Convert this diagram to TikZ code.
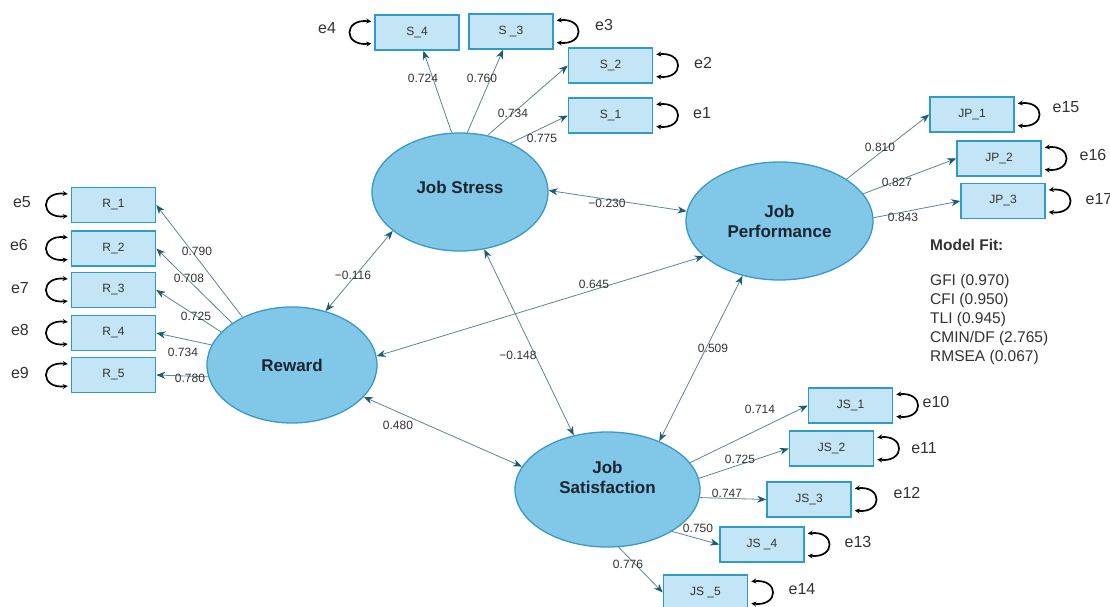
\documentclass[tikz,border=0pt]{standalone}
\usepackage{fontspec}
\setmainfont{Liberation Sans}
\usetikzlibrary{shapes.geometric,arrows.meta,calc}
\definecolor{ellfill}{HTML}{80C7E8}
\definecolor{ellline}{HTML}{3A9AC4}
\definecolor{boxfill}{HTML}{C3E5F5}
\definecolor{boxline}{HTML}{2F9CC6}
\definecolor{linecol}{HTML}{5A8797}
\definecolor{arrowcol}{HTML}{1D5A74}
\definecolor{txtdark}{HTML}{1A2430}
\definecolor{lblcol}{HTML}{333333}
\tikzset{
  latent/.style={ellipse, draw=ellline, fill=ellfill, line width=1.3pt, inner sep=0pt},
  lattext/.style={font=\fontsize{17}{20}\selectfont\bfseries, text=txtdark, align=center, inner sep=0pt},
  obs/.style={rectangle, draw=boxline, fill=boxfill, line width=1.6pt,
    minimum width=84, minimum height=35, inner sep=0pt,
    font=\fontsize{12}{14}\selectfont, text=lblcol},
  corr/.style={draw=linecol, line width=0.8pt,
    {Stealth[length=9pt,width=7pt,color=arrowcol]}-{Stealth[length=9pt,width=7pt,color=arrowcol]}},
  load/.style={draw=linecol, line width=0.8pt,
    -{Stealth[length=9pt,width=7pt,color=arrowcol]}},
  selfloop/.style={draw=black, line width=1.7pt,
    {Stealth[length=5pt,width=5pt]}-{Stealth[length=5pt,width=5pt]}},
  coef/.style={font=\fontsize{12}{14}\selectfont, text=lblcol, inner sep=0pt},
  errlab/.style={font=\fontsize{16}{18}\selectfont, text=lblcol, inner sep=0pt},
  fitlab/.style={font=\fontsize{15.5}{18}\selectfont, text=lblcol, inner sep=0pt, anchor=base west}
}
\begin{document}
\begin{tikzpicture}[x=1pt,y=-1pt]
\fill[white] (0,0) rectangle (1110,607);
\useasboundingbox (0,0) rectangle (1110,607);

% latent variables
\node[latent, minimum width=176, minimum height=118] (stress) at (460,192) {};
\node[latent, minimum width=187, minimum height=118] (perf) at (779.5,221) {};
\node[latent, minimum width=170, minimum height=116] (reward) at (292,365) {};
\node[latent, minimum width=185, minimum height=115] (sat) at (607.5,489.5) {};
\node[lattext] (stresst) at (460,187) {Job Stress};
\node[lattext] (perft) at (779.5,221) {Job\\Performance};
\node[lattext] (rewardt) at (292,365) {Reward};
\node[lattext] (satt) at (607.5,477) {Job\\Satisfaction};

% observed
\node[obs] (s4) at (417,32.5) {S\_4};
\node[obs] (s3) at (511,31.5) {S \_3};
\node[obs] (s2) at (610.5,65.5) {S\_2};
\node[obs] (s1) at (610.5,115.5) {S\_1};
\node[obs] (r1) at (113.5,205) {R\_1};
\node[obs] (r2) at (113.5,248.5) {R\_2};
\node[obs] (r3) at (113.5,290) {R\_3};
\node[obs] (r4) at (113.5,333) {R\_4};
\node[obs] (r5) at (113.5,375) {R\_5};
\node[obs] (jp1) at (972,114.5) {JP\_1};
\node[obs] (jp2) at (999,158.5) {JP\_2};
\node[obs] (jp3) at (1003,201) {JP\_3};
\node[obs] (js1) at (850.5,405.5) {JS\_1};
\node[obs] (js2) at (831.5,448.5) {JS\_2};
\node[obs] (js3) at (809,499.5) {JS\_3};
\node[obs] (js4) at (762,544.5) {JS \_4};
\node[obs] (js5) at (705.5,592.5) {JS \_5};

% error labels
\node[errlab] (e4) at (327,28) {e4};
\node[errlab] (e3) at (604,25) {e3};
\node[errlab] (e2) at (703,63) {e2};
\node[errlab] (e1) at (702,113) {e1};
\node[errlab] (e5) at (22,202) {e5};
\node[errlab] (e6) at (19,245) {e6};
\node[errlab] (e7) at (20,288) {e7};
\node[errlab] (e8) at (20,330) {e8};
\node[errlab] (e9) at (20,373) {e9};
\node[errlab] (e15) at (1066,107) {e15};
\node[errlab] (e16) at (1093,155) {e16};
\node[errlab] (e17) at (1099,199) {e17};
\node[errlab] (e10) at (936,402) {e10};
\node[errlab] (e11) at (924,448) {e11};
\node[errlab] (e12) at (907,493) {e12};
\node[errlab] (e13) at (858,542) {e13};
\node[errlab] (e14) at (802,589) {e14};

% self loops (right side)
\foreach \b in {s3,s2,s1,jp1,jp2,jp3,js1,js2,js3,js4,js5}{
  \draw[selfloop] ($(\b.east)+(3,-11)$) .. controls +(28,-3) and +(28,3) .. ($(\b.east)+(3,11)$);
}
% self loops (left side)
\foreach \b in {s4,r1,r2,r3,r4,r5}{
  \draw[selfloop] ($(\b.west)+(-3,-11)$) .. controls +(-28,-3) and +(-28,3) .. ($(\b.west)+(-3,11)$);
}

% structural correlations
\draw[corr] (stress.1) -- (perf.174);
\draw[corr] (stress.210) -- (reward.58);
\draw[corr] (reward.6) -- (perf.205);
\draw[corr] (stress.-67) -- (sat.122);
\draw[corr] (perf.236) -- (sat.43);
\draw[corr] (reward.-24) -- (sat.165);

% loadings
\draw[load] (stress.98) -- (s4);
\draw[load] (stress.83) -- (s3);
\draw[load] (stress.64) -- (s2.west);
\draw[load] (stress.44) -- (s1.west);
\draw[load] (reward.136) -- (r1.east);
\draw[load] (reward.145) -- (r2.east);
\draw[load] (reward.155) -- (r3.east);
\draw[load] (reward.166) -- (r4.east);
\draw[load] (reward.188) -- (r5.east);
\draw[load] (perf.32) -- (jp1.west);
\draw[load] (perf.18) -- (jp2.west);
\draw[load] (perf.2) -- (jp3.west);
\draw[load] (sat.18) -- (js1.west);
\draw[load] (sat.7) -- (js2.west);
\draw[load] (sat.-5) -- (js3.west);
\draw[load] (sat.-33) -- (js4.west);
\draw[load] (sat.-79) -- (js5.west);

% coefficients
\node[coef] (c1) at (423,78) {0.724};
\node[coef] (c2) at (482,78) {0.760};
\node[coef] (c3) at (513,113) {0.734};
\node[coef] (c4) at (542,138) {0.775};
\node[coef] (c5) at (197,251) {0.790};
\node[coef] (c6) at (189,278) {0.708};
\node[coef] (c7) at (196,316) {0.725};
\node[coef] (c8) at (183,352) {0.734};
\node[coef] (c9) at (190,378) {0.780};
\node[coef] (c10) at (880,147) {0.810};
\node[coef] (c11) at (897,182) {0.827};
\node[coef] (c12) at (903,217) {0.843};
\node[coef] (c13) at (760,409) {0.714};
\node[coef] (c14) at (740,459) {0.725};
\node[coef] (c15) at (727,493) {0.747};
\node[coef] (c16) at (698,528) {0.750};
\node[coef] (c17) at (628,564) {0.776};
\node[coef] (c18) at (607,203) {−0.230};
\node[coef] (c19) at (353,275) {−0.116};
\node[coef] (c20) at (594,284) {0.645};
\node[coef] (c21) at (713,348) {0.509};
\node[coef] (c22) at (518,355) {−0.148};
\node[coef] (c23) at (398,425) {0.480};

% model fit
\node[fitlab, font=\fontsize{15.5}{18}\selectfont\bfseries] (mf) at (930,250.5) {Model Fit:};
\node[fitlab] (f1) at (930,285.5) {GFI (0.970)};
\node[fitlab] (f2) at (930,304) {CFI (0.950)};
\node[fitlab] (f3) at (930,323) {TLI (0.945)};
\node[fitlab] (f4) at (930,342.5) {CMIN/DF (2.765)};
\node[fitlab] (f5) at (930,361) {RMSEA (0.067)};
\end{tikzpicture}
\end{document}
